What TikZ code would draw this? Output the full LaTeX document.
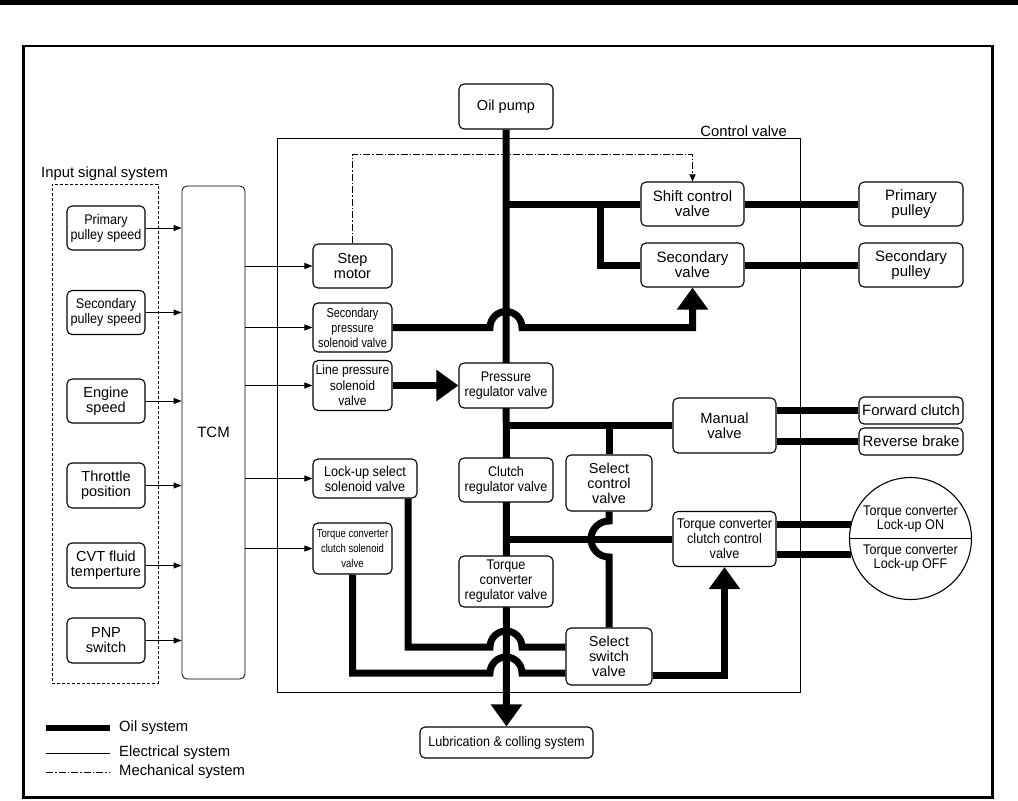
\documentclass[tikz,border=0pt]{standalone}
\usepackage{fontspec}
\setmainfont{Liberation Sans}
\newfontfamily\nfa{Liberation Sans}[FakeStretch=0.82]
\newfontfamily\nfb{Liberation Sans}[FakeStretch=0.9]
\usetikzlibrary{arrows.meta,backgrounds}
\newcommand{\myfs}[1]{\fontsize{#1}{15}\selectfont}
\begin{document}
\begin{tikzpicture}[x=1pt,y=-1pt,
 oil/.style={line width=7pt},
 elec/.style={line width=0.9pt,-{Triangle[length=8pt,width=6pt]}},
 mech/.style={line width=0.8pt,dash pattern=on 7pt off 2pt on 1.5pt off 2pt},
 box/.style={draw,line width=1.1pt,rounded corners=5pt,fill=white,align=center,inner sep=0pt},
 bigtip/.style={-{Triangle[length=22pt,width=30pt]}},
 lbl/.style={inner sep=0pt,font=\myfs{14.8}}]
\useasboundingbox (0,0) rectangle (1018,801);
\fill (0,0) rectangle (1018,5);
\draw[line width=2.5pt] (23.5,46) rectangle (992.5,797.5);

% frames
\node[draw,line width=0.9pt,dash pattern=on 3pt off 2pt,minimum width=106pt,minimum height=499pt,inner sep=0pt] (isys) at (105,433.5) {};
\node[lbl,anchor=west] (isyslbl) at (41,174) {Input signal system};
\node[draw,line width=1pt,minimum width=523pt,minimum height=554pt,inner sep=0pt] (cv) at (538.5,415) {};
\node[lbl,anchor=east] (cvlbl) at (787,131) {Control valve};

% input boxes
\node[box,minimum width=78pt,minimum height=44pt,font=\nfb\myfs{14}] (ps) at (106,228) {Primary\\pulley speed};
\node[box,minimum width=78pt,minimum height=44pt,font=\nfb\myfs{14}] (ss) at (106,312.5) {Secondary\\pulley speed};
\node[box,minimum width=78pt,minimum height=44pt,font=\myfs{14.5}] (es) at (106,401) {Engine\\speed};
\node[box,minimum width=78pt,minimum height=45pt,font=\myfs{14.5}] (tp) at (106,485.5) {Throttle\\position};
\node[box,minimum width=78pt,minimum height=45pt,font=\myfs{14.5}] (cvt) at (106,565.5) {CVT fluid\\temperture};
\node[box,minimum width=78pt,minimum height=45pt,font=\myfs{14.5}] (pnp) at (106,640.5) {PNP\\switch};

\node[box,line width=0.8pt,minimum width=63pt,minimum height=493pt,font=\myfs{15}] (tcm) at (213.5,432.5) {TCM};

% solenoids
\node[box,minimum width=79pt,minimum height=44pt,font=\myfs{14.5}] (step) at (352.5,266) {Step\\motor};
\node[box,minimum width=79pt,minimum height=49pt,font=\nfa\fontsize{13.2}{15}\selectfont] (spsv) at (352.5,327.5) {Secondary\\pressure\\solenoid valve};
\node[box,minimum width=79pt,minimum height=50pt,font=\nfb\fontsize{13.5}{15.5}\selectfont] (lpsv) at (352.5,385.5) {Line pressure\\solenoid\\valve};
\node[box,minimum width=104pt,minimum height=39pt,font=\nfb\myfs{14.1}] (lus) at (365,478.5) {Lock-up select\\solenoid valve};
\node[box,minimum width=79pt,minimum height=51pt,font=\nfa\fontsize{11.6}{15}\selectfont] (tccs) at (352.5,548.5) {Torque converter\\clutch solenoid\\valve};

% centre column
\node[box,minimum width=94pt,minimum height=45pt,font=\myfs{14.5}] (oil) at (506,106.5) {Oil pump};
\node[box,minimum width=94pt,minimum height=45pt,font=\nfb\myfs{14}] (prv) at (506,385.5) {Pressure\\regulator valve};
\node[box,minimum width=94pt,minimum height=44pt,font=\nfb\myfs{14}] (crv) at (506,480) {Clutch\\regulator valve};
\node[box,minimum width=94pt,minimum height=51pt,font=\nfb\myfs{14}] (tcrv) at (506,581.5) {Torque\\converter\\regulator valve};
\node[box,minimum width=173pt,minimum height=31pt,font=\nfb\myfs{14}] (lub) at (506.5,742.5) {Lubrication \& colling system};

% right valves
\node[box,minimum width=103pt,minimum height=44pt,font=\myfs{15}] (scv) at (692.5,204) {Shift control\\valve};
\node[box,minimum width=103pt,minimum height=44pt,font=\myfs{15}] (sv) at (692.5,265) {Secondary\\valve};
\node[box,minimum width=103pt,minimum height=55pt,font=\myfs{14.7}] (mv) at (724.5,425.5) {Manual\\valve};
\node[box,minimum width=86pt,minimum height=56pt,font=\myfs{14.4}] (selc) at (609,483) {Select\\control\\valve};
\node[box,minimum width=103pt,minimum height=55pt,font=\nfb\myfs{14.1}] (tccc) at (724.5,539) {Torque converter\\clutch control\\valve};
\node[box,minimum width=86pt,minimum height=57pt,font=\myfs{14.4}] (sels) at (609,656.5) {Select\\switch\\valve};

% outputs
\node[box,minimum width=104pt,minimum height=44pt,font=\myfs{15}] (pp) at (911,204) {Primary\\pulley};
\node[box,minimum width=104pt,minimum height=44pt,font=\myfs{15}] (sp) at (911,265) {Secondary\\pulley};
\node[box,minimum width=104pt,minimum height=27pt,font=\myfs{14.9}] (fc) at (911,410.5) {Forward clutch};
\node[box,minimum width=104pt,minimum height=27pt,font=\myfs{14.9}] (rb) at (911,441.5) {Reverse brake};
\node[draw,circle,line width=1.1pt,minimum size=122pt,inner sep=0pt] (circ) at (910.5,538.5) {};
\node[align=center,inner sep=0pt,font=\nfb\fontsize{14}{13}\selectfont] (lon) at (910.5,519) {Torque converter\\Lock-up ON};
\node[align=center,inner sep=0pt,font=\nfb\fontsize{14}{13}\selectfont] (loff) at (910.5,558) {Torque converter\\Lock-up OFF};
\draw[line width=1.1pt] (circ.west) -- (circ.east);

% main oil line
\begin{pgfonlayer}{background}
\draw[oil,bigtip] (oil.south) -- (lub.north);
\end{pgfonlayer}

% oil lines
\draw[oil] (oil.south |- scv.west) -- (scv.west);
\coordinate (j1) at (600,204);
\draw[oil] (j1) |- (sv.west);
\draw[oil] (scv.east) -- (pp.west);
\draw[oil] (sv.east) -- (sp.west);
\draw[oil,bigtip] (spsv.east) -- (490,327.5) .. controls (490,318.66) and (497.16,311.5) .. (506,311.5) .. controls (514.84,311.5) and (522,318.66) .. (522,327.5) -| (sv.south);
\draw[oil,bigtip] (lpsv.east) -- (prv.west);
\draw[oil] (oil.south |- mv.west) -- (mv.west);
\coordinate (j2) at (609,425.5);
\draw[oil] (j2) -- (selc.north);
\draw[oil] (mv.east |- fc.west) -- (fc.west);
\draw[oil] (mv.east |- rb.west) -- (rb.west);
\draw[oil] (oil.south |- tccc.west) -- (tccc.west);
\draw[oil] (selc.south) -- (609,521) .. controls (599.06,521) and (591,529.06) .. (591,539) .. controls (591,548.94) and (599.06,557) .. (609,557) -- (sels.north);
\draw[oil] (circ.167 -| tccc.east) -- (circ.167);
\draw[oil] (circ.195 -| tccc.east) -- (circ.195);
\coordinate (k1) at (408,647);
\draw[oil] (lus.south -| k1) -- (k1) -- (490,647) .. controls (490,638.16) and (497.16,631) .. (506,631) .. controls (514.84,631) and (522,638.16) .. (522,647) -- (sels.west |- k1);
\coordinate (k2) at (352.5,673);
\draw[oil] (tccs.south) -- (k2) -- (490,673) .. controls (490,664.16) and (497.16,657) .. (506,657) .. controls (514.84,657) and (522,664.16) .. (522,673) -- (sels.west |- k2);
\coordinate (k3) at (723,675);
\draw[oil,bigtip] (sels.east |- k3) -| (tccc.south);

% electrical
\foreach \n in {ps,ss,es,tp,cvt,pnp} \draw[elec] (\n.east) -- (\n.east -| tcm.west);
\foreach \n in {step,spsv,lpsv,lus,tccs} \draw[elec] (tcm.east |- \n.west) -- (\n.west);

% mechanical
\coordinate (m1) at (352.5,154);
\draw[mech,-{Triangle[length=7pt,width=6pt]}] (step.north) -- (step.north |- m1) -| (scv.north);

% legend
\coordinate (la1) at (46,728); \coordinate (la2) at (110,728);
\coordinate (lb1) at (46,753); \coordinate (lb2) at (110,753);
\coordinate (lc1) at (46,772); \coordinate (lc2) at (110,772);
\draw[line width=6pt] (la1) -- (la2);
\draw[line width=0.9pt] (lb1) -- (lb2);
\draw[mech] (lc1) -- (lc2);
\node[lbl,anchor=west] (lga) at (119,728) {Oil system};
\node[lbl,anchor=west] (lgb) at (119,753) {Electrical system};
\node[lbl,anchor=west] (lgc) at (119,772) {Mechanical system};
\end{tikzpicture}
\end{document}
